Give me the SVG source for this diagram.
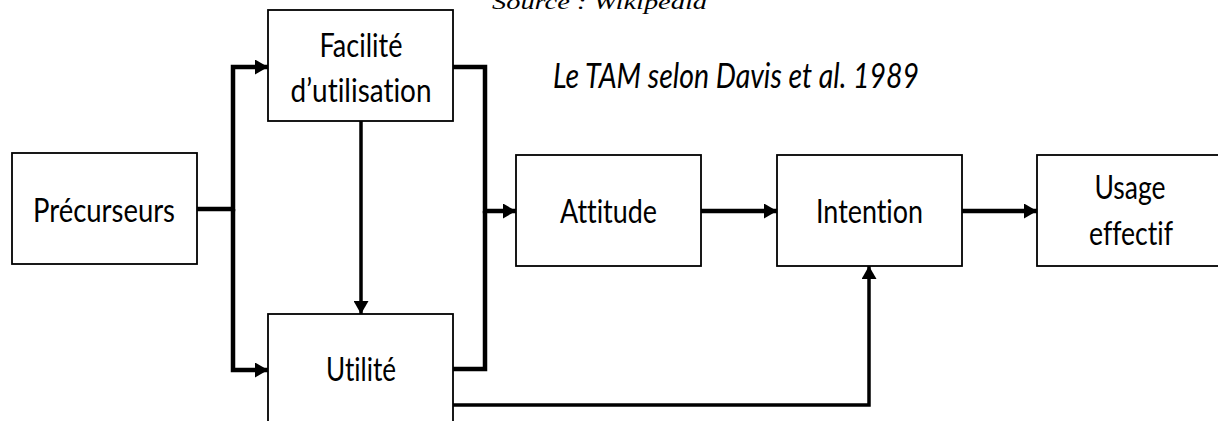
<svg xmlns="http://www.w3.org/2000/svg" width="1218" height="421" viewBox="0 0 1218 421">
<style>
.box{fill:#fff;stroke:#000;stroke-width:1.8}
.lbl{font-family:Lato,"Open Sans","Liberation Sans",sans-serif;font-size:33px;fill:#000;text-anchor:middle;font-variant-ligatures:none}
.ttl{font-family:Lato,"Open Sans","Liberation Sans",sans-serif;font-size:34px;font-style:italic;fill:#000;font-variant-ligatures:none}
.src{font-family:"Liberation Serif",serif;font-size:21px;font-style:italic;fill:#000}
.c{fill:none;stroke:#000;stroke-width:4.5;stroke-linejoin:miter}
.t{stroke-width:3.5}
</style>
<defs>
<marker id="ah" markerUnits="userSpaceOnUse" markerWidth="13" markerHeight="15" refX="13" refY="7.5" orient="auto">
<path d="M0,0 L13,7.5 L0,15 Z" fill="#000"/>
</marker>
</defs>
<rect width="1218" height="421" fill="#fff"/>
<text class="src" x="492" y="9" textLength="215" lengthAdjust="spacingAndGlyphs">Source : Wikipedia</text>
<text class="ttl" x="553" y="88" textLength="366" lengthAdjust="spacingAndGlyphs">Le TAM selon Davis et al. 1989</text>
<g id="connectors">
<path class="c" d="M197,209 H233 V67 H268" marker-end="url(#ah)"/>
<path class="c" d="M233,209 V370 H268" marker-end="url(#ah)"/>
<path class="c t" d="M361,121 V314" marker-end="url(#ah)"/>
<path class="c" d="M453,67 H485 V211 H516" marker-end="url(#ah)"/>
<path class="c" d="M453,369 H485 V211"/>
<path class="c" d="M701,211 H777" marker-end="url(#ah)"/>
<path class="c" d="M962,211 H1037" marker-end="url(#ah)"/>
<path class="c t" d="M453,405 H869 V266" marker-end="url(#ah)"/>
</g>
<g id="precurseurs">
<rect class="box" x="12" y="153" width="185" height="111"/>
<text class="lbl" x="104" y="222" textLength="142" lengthAdjust="spacingAndGlyphs">Précurseurs</text>
</g>
<g id="facilite">
<rect class="box" x="268" y="10" width="185" height="111"/>
<text class="lbl" x="361" y="57" textLength="83" lengthAdjust="spacingAndGlyphs">Facilité</text>
<text class="lbl" x="361" y="102" textLength="141" lengthAdjust="spacingAndGlyphs">d’utilisation</text>
</g>
<g id="utilite">
<rect class="box" x="268" y="314" width="185" height="120"/>
<text class="lbl" x="361" y="381" textLength="70" lengthAdjust="spacingAndGlyphs">Utilité</text>
</g>
<g id="attitude">
<rect class="box" x="516" y="155" width="185" height="111"/>
<text class="lbl" x="608.5" y="222.5" textLength="97" lengthAdjust="spacingAndGlyphs">Attitude</text>
</g>
<g id="intention">
<rect class="box" x="777" y="155" width="185" height="111"/>
<text class="lbl" x="869.5" y="223" textLength="107" lengthAdjust="spacingAndGlyphs">Intention</text>
</g>
<g id="usage">
<rect class="box" x="1037" y="155" width="186" height="111"/>
<text class="lbl" x="1130" y="199" textLength="71" lengthAdjust="spacingAndGlyphs">Usage</text>
<text class="lbl" x="1131" y="245" textLength="84" lengthAdjust="spacingAndGlyphs">effectif</text>
</g>
</svg>
